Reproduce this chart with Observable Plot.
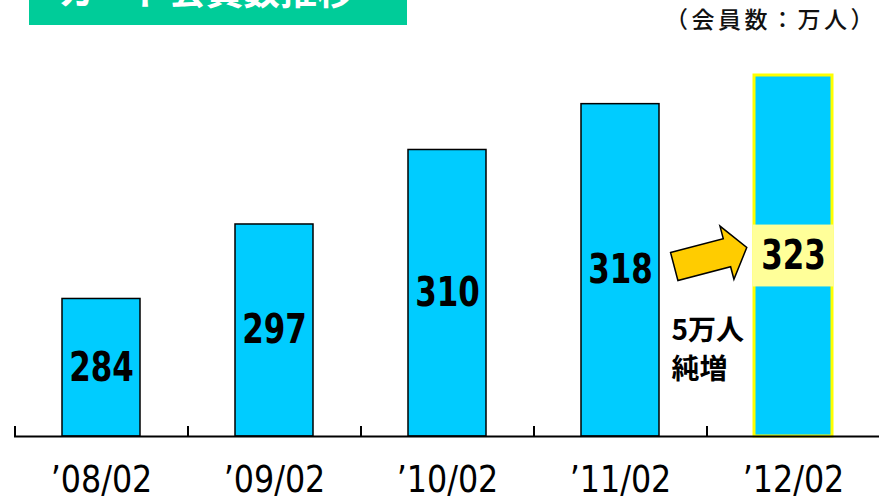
<!DOCTYPE html>
<html><head><meta charset="utf-8">
<script src="https://cdn.jsdelivr.net/npm/d3@7"></script>
<script src="https://cdn.jsdelivr.net/npm/@observablehq/plot@0.6"></script>
<style>
html,body{margin:0;padding:0;background:#fff;}
#wrap{position:relative;width:879px;height:497px;overflow:hidden;}
#title{position:absolute;left:29px;top:0;width:378px;height:25px;background:#00CC99;overflow:hidden;}
#title span{position:absolute;left:29px;top:-29px;font:bold 37px "Noto Sans CJK JP",sans-serif;line-height:1;color:#fff;white-space:nowrap;}
#unit{position:absolute;right:2px;top:7px;font:500 23px "Noto Sans CJK JP",sans-serif;letter-spacing:3.5px;line-height:1;color:#111;white-space:nowrap;}
#chart{position:absolute;left:0;top:0;}
</style>
</head><body>
<div id="wrap"><div id="chart"></div><div id="title"><span></span></div><div id="unit"></div></div>
<script>
const categories = ["’08/02", "’09/02", "’10/02", "’11/02", "’12/02"];
const values = [284, 297, 310, 318, 323];
const highlighted = [false, false, false, false, true];
const yBase = 260;
const yMax = 323;
const titleText = "カード会員数推移";
const unitText = "（会員数：万人）";
const noteText = "5万人\n純増";
const noteValue = 275.6;

const data = categories.map((c, i) => ({cat: c, value: values[i], hi: highlighted[i], mid: (values[i] + yBase) / 2}));
const hiData = data.filter(d => d.hi);

document.querySelector("#title span").textContent = titleText;
document.querySelector("#unit").textContent = unitText;

const arrowSymbol = {
  draw(ctx) {
    const a = -14.7 * Math.PI / 180, c = Math.cos(a), s = Math.sin(a);
    const pts = [[-37.5,-14.5],[17,-14.5],[17,-27.5],[37.5,0],[17,27.5],[17,14.5],[-37.5,14.5]]
      .map(([x, y]) => [x * c - y * s, x * s + y * c]);
    ctx.moveTo(pts[0][0], pts[0][1]);
    for (let i = 1; i < pts.length; i++) ctx.lineTo(pts[i][0], pts[i][1]);
    ctx.closePath();
  }
};

const narrow = "'Liberation Sans Narrow','DejaVu Sans Condensed',sans-serif";

const chart = Plot.plot({
  width: 879,
  height: 497,
  marginLeft: 14,
  marginRight: 0,
  marginTop: 75,
  marginBottom: 61,
  x: {type: "band", domain: categories, paddingInner: 0.55, paddingOuter: 0.275, axis: null},
  y: {domain: [yBase, yMax], axis: null},
  marks: [
    Plot.barY(data.filter(d => !d.hi), {x: "cat", y1: yBase, y2: "value", fill: "#00CCFF", stroke: "black", strokeWidth: 1.5}),
    Plot.barY(hiData, {x: "cat", y1: yBase, y2: "value", fill: "#00CCFF", stroke: "#FFFF00", strokeWidth: 3}),
    Plot.barY(hiData, {x: "cat", y1: d => d.mid - 5.4, y2: d => d.mid + 5.4, fill: "#FFFF99", insetLeft: -1.5, insetRight: -1.5}),
    Plot.text(data, {x: "cat", y: "mid", text: d => String(d.value), fontSize: 40, fontWeight: "bold", fontFamily: narrow, fill: "black"}),
    Plot.ruleX(categories, {x: d => d, y1: yBase, y2: yBase + 1.75, dx: -86.5, stroke: "black", strokeWidth: 2}),
    Plot.ruleY([yBase], {stroke: "black", strokeWidth: 2}),
    Plot.text(categories, {x: d => d, y: yBase, dy: 43, text: d => d, fontSize: 38, fontFamily: narrow, fill: "black"}),
    Plot.dot(hiData, {x: "cat", y: "mid", dx: -83, dy: 1, symbol: arrowSymbol, r: 10, fill: "#FFCC00", stroke: "black", strokeWidth: 1.5}),
    Plot.text([noteText], {x: () => categories[4], y: () => noteValue, dx: -122, text: d => d, textAnchor: "start", lineHeight: 1.4, fontSize: 28, fontWeight: "bold", fontFamily: "'Noto Sans CJK JP',sans-serif", fill: "black"})
  ]
});
document.getElementById("chart").appendChild(chart);

const textGroups = chart.querySelectorAll('g[aria-label="text"]');
function squeeze(group, s) {
  d3.select(group).selectAll("text").each(function() {
    const el = d3.select(this);
    const x = el.attr("x"), y = el.attr("y"), t = el.attr("transform");
    if (x != null || y != null) {
      const xx = +x || 0, yy = +y || 0;
      el.attr("transform", `${t || ""} translate(${xx},${yy}) scale(${s},1) translate(${-xx},${-yy})`);
    } else {
      el.attr("transform", `${t || ""} scale(${s},1)`);
    }
  });
}
squeeze(textGroups[0], 0.86);
squeeze(textGroups[1], 0.93);
</script>
</body></html>
